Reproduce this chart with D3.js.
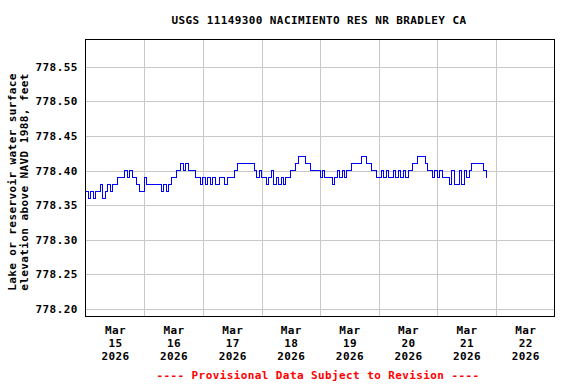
<!DOCTYPE html>
<html><head><meta charset="utf-8">
<script src="https://cdn.jsdelivr.net/npm/d3@7"></script>
<style>
body{margin:0;background:#fff}
text{font-family:"DejaVu Sans Mono",monospace;font-weight:bold;font-size:11px;letter-spacing:0.4px}
</style>
</head><body><svg id="c" width="576" height="384"></svg>
<script>
// ---------------- data ----------------
const title = "USGS 11149300 NACIMIENTO RES NR BRADLEY CA";
const yTitle = ["Lake or reservoir water surface", "elevation above NAVD 1988, feet"];
const footnote = "---- Provisional Data Subject to Revision ----";
const seriesStart = "2026-03-15T00:00";
const stepHours = 1;
// hourly gage height readings (feet)
const elevation = [
 778.37,778.36,778.37,778.36,778.37,778.37,778.38,778.36,778.37,778.38,778.37,778.38,
 778.38,778.39,778.39,778.39,778.40,778.39,778.40,778.39,778.39,778.38,778.37,778.37,
 778.39,778.38,778.38,778.38,778.38,778.38,778.38,778.37,778.38,778.37,778.38,778.39,
 778.39,778.40,778.40,778.41,778.40,778.41,778.40,778.40,778.40,778.39,778.39,778.38,
 778.39,778.38,778.39,778.38,778.39,778.38,778.38,778.39,778.39,778.38,778.39,778.39,
 778.39,778.40,778.41,778.41,778.41,778.41,778.41,778.41,778.41,778.40,778.39,778.40,
 778.39,778.39,778.38,778.39,778.40,778.38,778.39,778.38,778.39,778.38,778.39,778.39,
 778.40,778.40,778.41,778.42,778.42,778.42,778.41,778.41,778.40,778.40,778.40,778.40,
 778.39,778.40,778.39,778.39,778.39,778.38,778.39,778.40,778.39,778.40,778.39,778.40,
 778.40,778.41,778.41,778.41,778.41,778.42,778.42,778.41,778.41,778.40,778.40,778.39,
 778.39,778.40,778.39,778.40,778.39,778.39,778.40,778.39,778.40,778.39,778.40,778.39,
 778.40,778.40,778.41,778.41,778.42,778.42,778.42,778.41,778.40,778.40,778.39,778.40,
 778.39,778.40,778.39,778.39,778.39,778.38,778.40,778.38,778.38,778.40,778.38,778.40,
 778.39,778.40,778.41,778.41,778.41,778.41,778.41,778.40,778.39
];
const yTicks = [778.20, 778.25, 778.30, 778.35, 778.40, 778.45, 778.50, 778.55];
const yDomain = [778.19, 778.59];
const xStart = "2026-03-15T00:00";
const xEnd = "2026-03-23T00:00";
const dayTicks = ["2026-03-15","2026-03-16","2026-03-17","2026-03-18","2026-03-19","2026-03-20","2026-03-21","2026-03-22"];

// ---------------- layout ----------------
const L = 85.7, R = 554.5, T = 39, B = 316;
const svg = d3.select("#c");
const parse = d3.timeParse("%Y-%m-%dT%H:%M");
const parseDay = d3.timeParse("%Y-%m-%d");
const t0 = parse(seriesStart);
const data = elevation.map((v, i) => ({t: d3.timeHour.offset(t0, i * stepHours), v}));
const last = data[data.length - 1];
const drawData = data.concat([{t: d3.timeMinute.offset(last.t, 30), v: last.v}]);

const x = d3.scaleTime().domain([parse(xStart), parse(xEnd)]).range([L, R]);
const y = d3.scaleLinear().domain(yDomain).range([B, T]);

// gridlines
const gy = svg.append("g").attr("transform", `translate(${L},0)`)
  .call(d3.axisLeft(y).tickValues(yTicks).tickSize(-(R - L)).tickFormat(""));
gy.select(".domain").remove();
gy.selectAll("line").attr("stroke", "#c8c8c8").attr("shape-rendering", "crispEdges");

const days = dayTicks.map(parseDay);
const gx = svg.append("g").attr("transform", `translate(0,${B})`)
  .call(d3.axisBottom(x).tickValues(days.slice(1)).tickSize(-(B - T)).tickFormat(""));
gx.select(".domain").remove();
gx.selectAll("line").attr("stroke", "#c8c8c8").attr("shape-rendering", "crispEdges");

// data line
svg.append("path").datum(drawData)
  .attr("fill", "none").attr("stroke", "#0000ff").attr("stroke-width", 1)
  .attr("shape-rendering", "crispEdges")
  .attr("d", d3.line().x(d => x(d.t)).y(d => y(d.v)).curve(d3.curveStepAfter));

// border
svg.append("rect").attr("x", Math.round(L) - 0.5).attr("y", T + 0.5)
  .attr("width", Math.round(R) - Math.round(L)).attr("height", B - T)
  .attr("fill", "none").attr("stroke", "#000").attr("shape-rendering", "crispEdges");

// y tick labels
const ya = svg.append("g").attr("transform", `translate(${L},0)`)
  .call(d3.axisLeft(y).tickValues(yTicks).tickSize(0).tickPadding(8).tickFormat(d3.format(".2f")));
ya.select(".domain").remove();
ya.selectAll("text").attr("fill", "#000").attr("font-size", null).attr("font-family", null);

// x tick labels (noon of each day)
const noons = days.map(d => d3.timeHour.offset(d, 12));
const xa = svg.append("g").attr("transform", `translate(0,${B})`)
  .call(d3.axisBottom(x).tickValues(noons).tickSize(0).tickFormat(""));
xa.select(".domain").remove();
const fm = [d3.timeFormat("%b"), d3.timeFormat("%d"), d3.timeFormat("%Y")];
xa.selectAll(".tick").each(function(d) {
  const t = d3.select(this).append("text").attr("fill", "#000").attr("text-anchor", "middle");
  fm.forEach((f, i) => t.append("tspan").attr("x", 0).attr("y", 18 + i * 13).text(f(d)));
});

// title
svg.append("text").attr("x", 319).attr("y", 23.5).attr("text-anchor", "middle").text(title);

// y axis title
const yt = svg.append("text").attr("transform", "translate(16,182) rotate(-90)").attr("text-anchor", "middle");
yTitle.forEach((s, i) => yt.append("tspan").attr("x", 0).attr("y", i * 12).text(s));

// footnote
svg.append("text").attr("x", 318).attr("y", 379).attr("text-anchor", "middle")
  .attr("fill", "#ff0000").text(footnote);
</script>
</body></html>
